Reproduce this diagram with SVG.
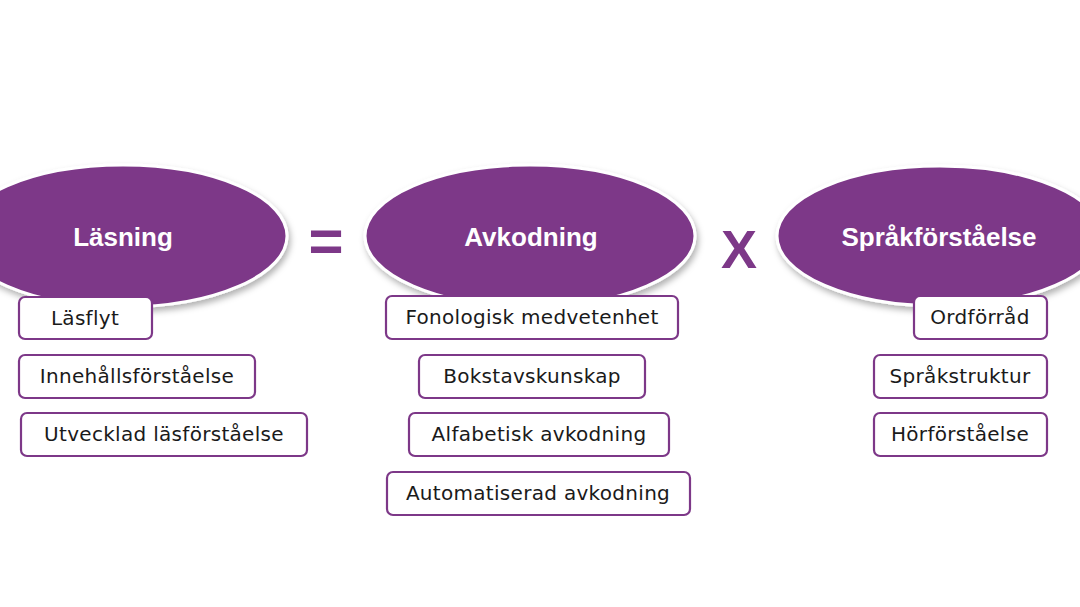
<svg xmlns="http://www.w3.org/2000/svg" width="1080" height="607" viewBox="0 0 1080 607">
<style>
.ell{fill:#7D3888;stroke:#ffffff;stroke-width:3}
.head{font-family:"Liberation Sans",Arial,sans-serif;font-weight:bold;font-size:26px;fill:#ffffff;text-anchor:middle}
.box{fill:#ffffff;stroke:#7D3888;stroke-width:2.2}
.lbl{font-family:"DejaVu Sans","Liberation Sans",sans-serif;font-size:20px;fill:#1a1a1a;text-anchor:middle;letter-spacing:0.3px}
.op{font-family:"Liberation Sans",Arial,sans-serif;font-weight:bold;fill:#7D3888;text-anchor:middle}
</style>
<defs>
<filter id="sh" x="-20%" y="-20%" width="140%" height="150%">
<feDropShadow dx="2" dy="4" stdDeviation="3" flood-color="#000" flood-opacity="0.3"/>
</filter>
</defs>
<rect width="1080" height="607" fill="#ffffff"/>
<g id="lasning">
<ellipse class="ell" cx="123" cy="236" rx="164" ry="71" filter="url(#sh)"/>
<text class="head" x="123" y="246">Läsning</text>
</g>
<g id="avkodning">
<ellipse class="ell" cx="530" cy="236" rx="165" ry="71" filter="url(#sh)"/>
<text class="head" x="531" y="246">Avkodning</text>
</g>
<g id="sprakforstaelse">
<ellipse class="ell" cx="940" cy="236" rx="163" ry="70" filter="url(#sh)"/>
<text class="head" x="939" y="246" font-size="27.5">Språkförståelse</text>
</g>
<g id="operators">
<text class="op" x="326" y="261" font-size="60">=</text>
<text class="op" x="739" y="268" font-size="54">X</text>
</g>
<g id="connectors"></g>
<g id="b1"><rect class="box" x="19" y="297" width="133" height="42" rx="6"/><text class="lbl" x="85" y="325">Läsflyt</text></g>
<g id="b2"><rect class="box" x="19" y="355" width="236" height="43" rx="6"/><text class="lbl" x="137" y="383">Innehållsförståelse</text></g>
<g id="b3"><rect class="box" x="21" y="413" width="286" height="43" rx="6"/><text class="lbl" x="164" y="441">Utvecklad läsförståelse</text></g>
<g id="b4"><rect class="box" x="386" y="296" width="292" height="43" rx="6"/><text class="lbl" x="532" y="324">Fonologisk medvetenhet</text></g>
<g id="b5"><rect class="box" x="419" y="355" width="226" height="43" rx="6"/><text class="lbl" x="532" y="383">Bokstavskunskap</text></g>
<g id="b6"><rect class="box" x="409" y="413" width="260" height="43" rx="6"/><text class="lbl" x="539" y="441">Alfabetisk avkodning</text></g>
<g id="b7"><rect class="box" x="387" y="472" width="303" height="43" rx="6"/><text class="lbl" x="538" y="500">Automatiserad avkodning</text></g>
<g id="b8"><rect class="box" x="914" y="296" width="133" height="43" rx="6"/><text class="lbl" x="980" y="324">Ordförråd</text></g>
<g id="b9"><rect class="box" x="874" y="355" width="173" height="43" rx="6"/><text class="lbl" x="960" y="383">Språkstruktur</text></g>
<g id="b10"><rect class="box" x="874" y="413" width="173" height="43" rx="6"/><text class="lbl" x="960" y="441">Hörförståelse</text></g>
</svg>
